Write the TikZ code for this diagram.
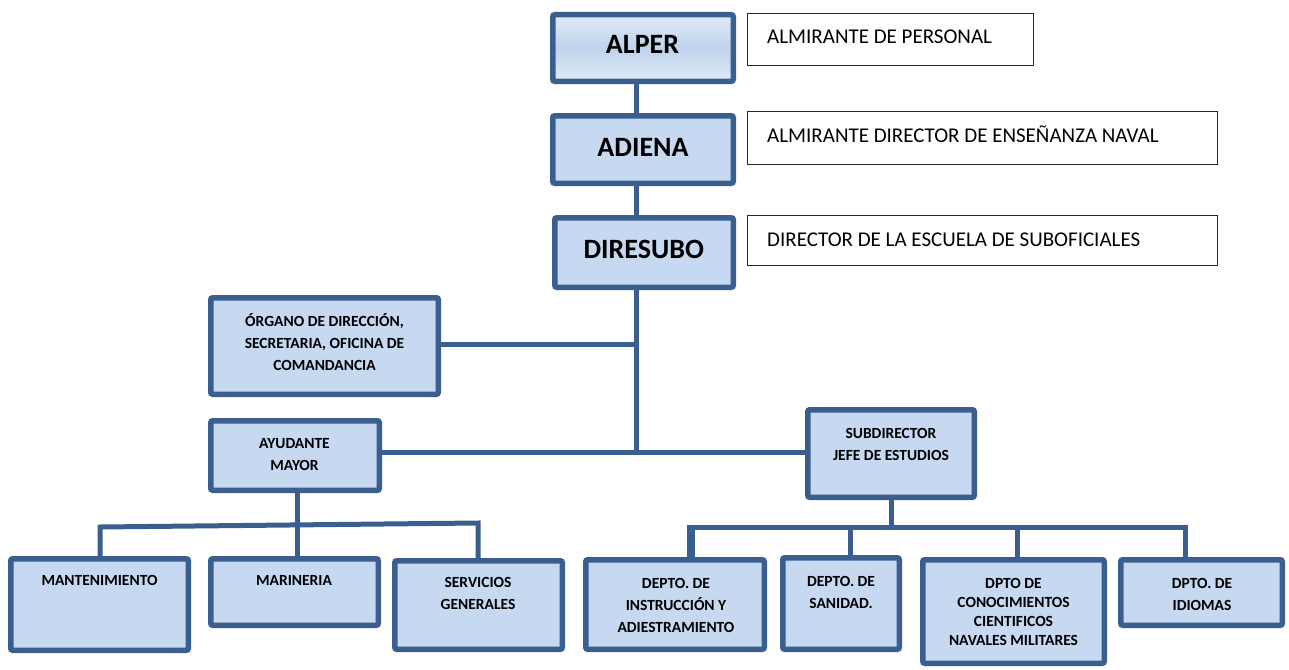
\documentclass[tikz,border=0pt]{standalone}
\usepackage{fontspec}
\setmainfont{Carlito}
\definecolor{orgline}{HTML}{3A5F8E}
\definecolor{orgfill}{HTML}{C6D9F1}
\newcommand\OB[6][]{\node[obox,#1,minimum width={(#4-#2-5.5)*1pt},minimum height={(#5-#3-5.5)*1pt}] (#6) at ({(#2+#4)/2},{(#3+#5)/2}) {};}
\newcommand\LB[5]{\node[lbox,minimum width={(#3-#1-1.3)*1pt},minimum height={(#4-#2-1.3)*1pt}] (#5) at ({(#1+#3)/2},{(#2+#4)/2}) {};}
\begin{document}
\begin{tikzpicture}[x=1pt,y=-1pt,
  obox/.style={draw=orgline, line width=5.5pt, fill=orgfill, rounded corners=2pt, inner sep=0pt},
  lbox/.style={draw=black!85, line width=1.3pt, fill=white, inner sep=0pt},
  conn/.style={draw=orgline, line width=5pt},
  big/.style={font=\bfseries\fontsize{28}{32}\selectfont, inner sep=0pt, anchor=base},
  ltext/.style={font=\fontsize{21}{25}\selectfont, inner sep=0pt, anchor=base west},
  btext/.style={font=\bfseries\fontsize{15.5}{22}\selectfont, align=center, inner sep=0pt},
  ctext/.style={font=\bfseries\fontsize{15.5}{19.3}\selectfont, align=center, inner sep=0pt}]
\useasboundingbox (0,0) rectangle (1289,669);

% top boxes
\OB[top color=orgfill!55!white, bottom color=orgfill!55!white, middle color=orgfill!95!orgline]{550}{12}{736}{84}{alper}
\OB{550}{113}{736}{186}{adiena}
\OB{552}{215}{736}{290}{diresubo}
\node[big] (t-alper) at (642.5,53.3) {ALPER};
\node[big] (t-adiena) at (643,156.7) {ADIENA};
\node[big] (t-diresubo) at (643.7,258.3) {DIRESUBO};

% label boxes
\LB{747}{13}{1034}{66}{l1}
\LB{747}{111}{1218}{165}{l2}
\LB{747}{215}{1218}{266}{l3}
\node[ltext] (t-l1) at (767,43.3) {ALMIRANTE DE PERSONAL};
\node[ltext] (t-l2) at (767,142.7) {ALMIRANTE DIRECTOR DE ENSEÑANZA NAVAL};
\node[ltext] (t-l3) at (767,246.7) {DIRECTOR DE LA ESCUELA DE SUBOFICIALES};

% middle level
\OB{208}{295}{441}{397}{organo}
\OB{208}{418}{382}{493}{ayud}
\OB{805}{407}{977}{500}{sub}
\node[btext] (t-organo) at (324.5,342) {ÓRGANO DE DIRECCIÓN,\\SECRETARIA, OFICINA DE\\COMANDANCIA};
\node[btext] (t-ayud) at (294.5,455) {AYUDANTE\\MAYOR};
\node[btext] (t-sub) at (891,444) {SUBDIRECTOR\\JEFE DE ESTUDIOS};

% bottom level left
\OB{8}{556}{191}{653}{mant}
\OB{208}{556}{381}{628}{mari}
\OB{392}{558}{565}{652}{serv}
\node[btext] (t-mant) at (99.5,580) {MANTENIMIENTO};
\node[btext] (t-mari) at (294,580) {MARINERIA};
\node[btext] (t-serv) at (478,593.5) {SERVICIOS\\GENERALES};

% bottom level right
\OB{583}{557}{767}{652}{instr}
\OB{780}{555}{902}{652}{sani}
\OB{920}{557}{1107}{666}{conoc}
\OB{1118}{557}{1285}{628}{idio}
\node[btext] (t-instr) at (676,605) {DEPTO. DE\\INSTRUCCIÓN Y\\ADIESTRAMIENTO};
\node[btext] (t-sani) at (841,592) {DEPTO. DE\\SANIDAD.};
\node[ctext] (t-conoc) at (1013.5,612) {DPTO DE\\CONOCIMIENTOS\\CIENTIFICOS\\NAVALES MILITARES};
\node[btext] (t-idio) at (1202,594) {DPTO. DE\\IDIOMAS};

% connector coordinates
\coordinate (tx) at (636,0);
\coordinate (ob) at (0,344);
\coordinate (hb) at (0,452);
\coordinate (ld) at (297,0);
\coordinate (lb1) at (100,527);
\coordinate (lb2) at (478,523);
\coordinate (rd) at (891,0);
\coordinate (rb1) at (689,527);
\coordinate (rb2) at (1185,527);
\coordinate (d1) at (692,527);
\coordinate (d2) at (850,527);
\coordinate (d3) at (1017,527);

% connectors
\draw[conn] (alper.south -| tx) -- (adiena.north -| tx);
\draw[conn] (adiena.south -| tx) -- (diresubo.north -| tx);
\draw[conn] (diresubo.south -| tx) -- (tx |- hb);
\draw[conn] (organo.east |- ob) -- (tx |- ob);
\draw[conn] (ayud.east |- hb) -- (sub.west |- hb);
\draw[conn] (ayud.south -| ld) -- (mari.north -| ld);
\draw[conn] (mant.north -| lb1) -- (lb1) -- (lb2) -- (serv.north -| lb2);
\draw[conn] (sub.south -| rd) -- (rd |- rb1);
\draw[conn] (instr.north -| rb1) -- (rb1) -- (rb2) -- (idio.north -| rb2);
\draw[conn] (d1) -- (instr.north -| d1);
\draw[conn] (d2) -- (sani.north -| d2);
\draw[conn] (d3) -- (conoc.north -| d3);
\end{tikzpicture}
\end{document}
